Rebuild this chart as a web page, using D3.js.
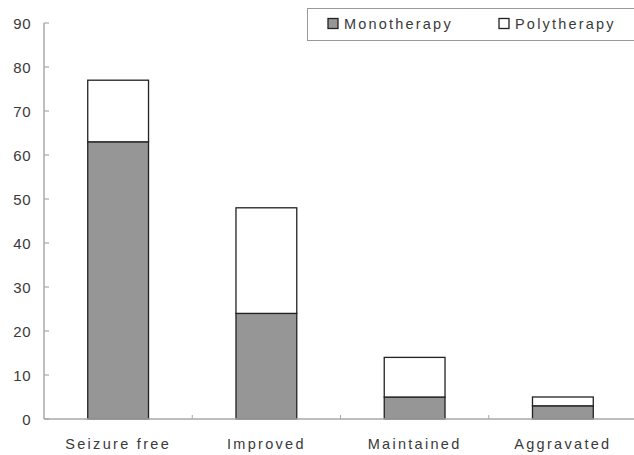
<!DOCTYPE html>
<html><head><meta charset="utf-8">
<script src="https://cdn.jsdelivr.net/npm/d3@7"></script>
<style>body{margin:0;background:#fff}text{font-family:"Liberation Sans",Arial,sans-serif;fill:#3a3a3a}</style>
</head><body><svg id="c" width="634" height="455"></svg>
<script>
const categories = ["Seizure free","Improved","Maintained","Aggravated"];
const monotherapy = [63,24,5,3];
const polytherapy = [14,24,9,2];
const yTicks = [0,10,20,30,40,50,60,70,80,90];
const seriesNames = ["Monotherapy","Polytherapy"];
const seriesColors = ["#969696","#ffffff"];

const svg = d3.select("#c");
const W = 634, H = 455;
const m = {l:44, t:23, b:455-419};
const xb = d3.scaleBand().domain(categories).range([m.l, 637]);
const barW = xb.bandwidth()*0.41;
const y = d3.scaleLinear().domain([0,90]).range([H-m.b, m.t]);

// y axis
const ya = svg.append("g").attr("transform",`translate(${m.l},0)`);
ya.append("line").attr("x1",0).attr("x2",0).attr("y1",y(0)).attr("y2",y(90)).attr("stroke","#a8a8a8").attr("stroke-width",1.5);
ya.selectAll("line.t").data(yTicks).join("line").attr("class","t")
  .attr("x1",0).attr("x2",5).attr("y1",d=>y(d)).attr("y2",d=>y(d)).attr("stroke","#a8a8a8").attr("stroke-width",1.2);
ya.selectAll("text").data(yTicks).join("text")
  .attr("x",-13).attr("y",d=>y(d)+5.5).attr("text-anchor","end").attr("font-size",15).attr("letter-spacing","0.5px").text(d=>d);

// stacked bars
const stack = categories.map((c,i)=>[{s:0,y0:0,y1:monotherapy[i],c},{s:1,y0:monotherapy[i],y1:monotherapy[i]+polytherapy[i],c}]).flat();
svg.selectAll("rect.bar").data(stack).join("rect").attr("class","bar")
  .attr("x",d=>xb(d.c)+xb.bandwidth()/2-barW/2).attr("width",barW)
  .attr("y",d=>y(d.y1)).attr("height",d=>y(d.y0)-y(d.y1))
  .attr("fill",d=>seriesColors[d.s]).attr("stroke","#222").attr("stroke-width",1.3);

// x axis
const xa = svg.append("g");
xa.append("line").attr("x1",m.l).attr("x2",W).attr("y1",y(0)).attr("y2",y(0)).attr("stroke","#a8a8a8").attr("stroke-width",1.5);
xa.selectAll("line.t").data(categories.slice(1)).join("line").attr("class","t")
  .attr("x1",d=>xb(d)).attr("x2",d=>xb(d)).attr("y1",y(0)).attr("y2",y(0)-4).attr("stroke","#a8a8a8");
xa.selectAll("text").data(categories).join("text")
  .attr("x",d=>xb(d)+xb.bandwidth()/2).attr("y",449).attr("text-anchor","middle")
  .attr("font-size",14.5).attr("letter-spacing","2.3px").text(d=>d);

// legend
const lg = svg.append("g");
lg.append("rect").attr("x",307.5).attr("y",8.5).attr("width",340).attr("height",32).attr("fill","#fff").attr("stroke","#999");
const lx = [328,499];
seriesNames.forEach((n,i)=>{
  lg.append("rect").attr("x",lx[i]).attr("y",18.5).attr("width",10).attr("height",10).attr("fill",seriesColors[i]).attr("stroke","#222").attr("stroke-width",1.3);
  lg.append("text").attr("x",lx[i]+16).attr("y",29).attr("font-size",14.5).attr("letter-spacing","2.2px").text(n);
});
</script></body></html>
